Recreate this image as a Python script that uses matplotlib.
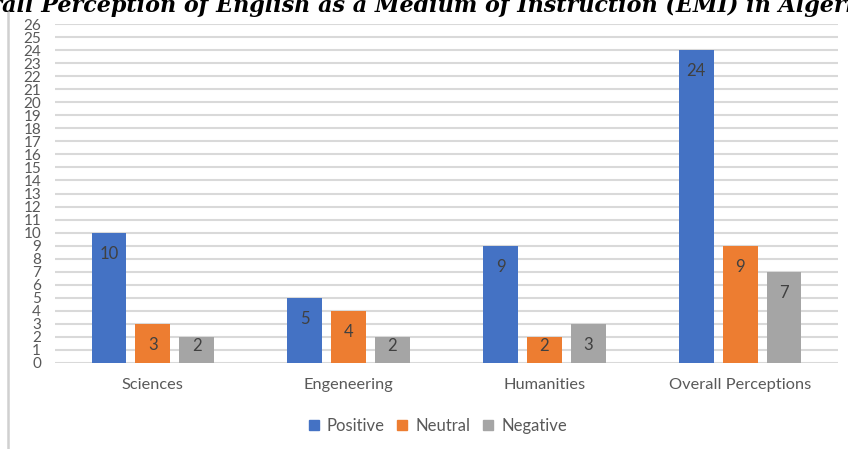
import matplotlib
matplotlib.use("Agg")
import matplotlib.pyplot as plt
import numpy as np
from matplotlib.lines import Line2D

categories = ["Sciences", "Engeneering", "Humanities", "Overall Perceptions"]
positive = [10, 5, 9, 24]
neutral = [3, 4, 2, 9]
negative = [2, 2, 3, 7]
series_names = ["Positive", "Neutral", "Negative"]
series_colors = ["#4472C4", "#ED7D31", "#A5A5A5"]
y_ticks = list(range(0, 27))
title = "Overall Perception of English as a Medium of Instruction (EMI) in Algeria"

W, H = 848, 449
fig = plt.figure(figsize=(W / 100, H / 100), dpi=100)
ax = fig.add_axes([55 / W, 1 - 363 / H, (838 - 55) / W, (363 - 24) / H])

font = "Lato"
text_gray = "#595959"
x = np.arange(len(categories))
step = 0.224
width = 0.178
px_per_unit = (363 - 24) / 26.0

for k, (vals, name, col) in enumerate(zip([positive, neutral, negative], series_names, series_colors)):
    xs = x + (k - 1) * step
    ax.bar(xs, vals, width=width, color=col, label=name, zorder=3)
    for xi, v in zip(xs, vals):
        # value label just inside the top of the bar
        drop_px = min(21.0, v * px_per_unit - 17.0)
        ax.annotate(str(v), (xi, v), xytext=(0, -drop_px * 0.72), textcoords="offset points",
                    ha="center", va="center", fontsize=12, color="#404040",
                    family=font, zorder=4)

ax.set_xlim(-0.5, 3.5)
ax.set_ylim(0, 26)
ax.set_yticks(y_ticks)
ax.set_yticklabels([str(t) for t in y_ticks], fontsize=11, color=text_gray, family=font)
ax.set_xticks(x)
ax.set_xticklabels(categories, fontsize=11.8, color=text_gray, family=font)
ax.tick_params(axis="both", length=0)
ax.tick_params(axis="y", pad=10)
ax.tick_params(axis="x", pad=11)
ax.grid(axis="y", color="#d9d9d9", linewidth=1.5, zorder=0)
for s in ax.spines.values():
    s.set_visible(False)

handles = [Line2D([], [], marker="s", linestyle="none", markersize=6.5,
                  markerfacecolor=c, markeredgecolor=c) for c in series_colors]
fig.legend(handles, series_names, loc="center", bbox_to_anchor=(438 / W, 1 - 426 / H),
           ncol=3, frameon=False, handlelength=0.6, handletextpad=0.5, columnspacing=0.75,
           prop={"family": font, "size": 12}, labelcolor=text_gray)

# left border of the chart frame
fig.add_artist(Line2D([8 / W, 8 / W], [0, 1 - 12 / H], color="#d0d0d0", linewidth=1.8))

fig.text(406 / W, 1 - 12 / H, title, ha="center", va="baseline", fontsize=16,
         family="DejaVu Serif", weight="bold", style="italic", color="black")

fig.savefig("out.png", dpi=100)
